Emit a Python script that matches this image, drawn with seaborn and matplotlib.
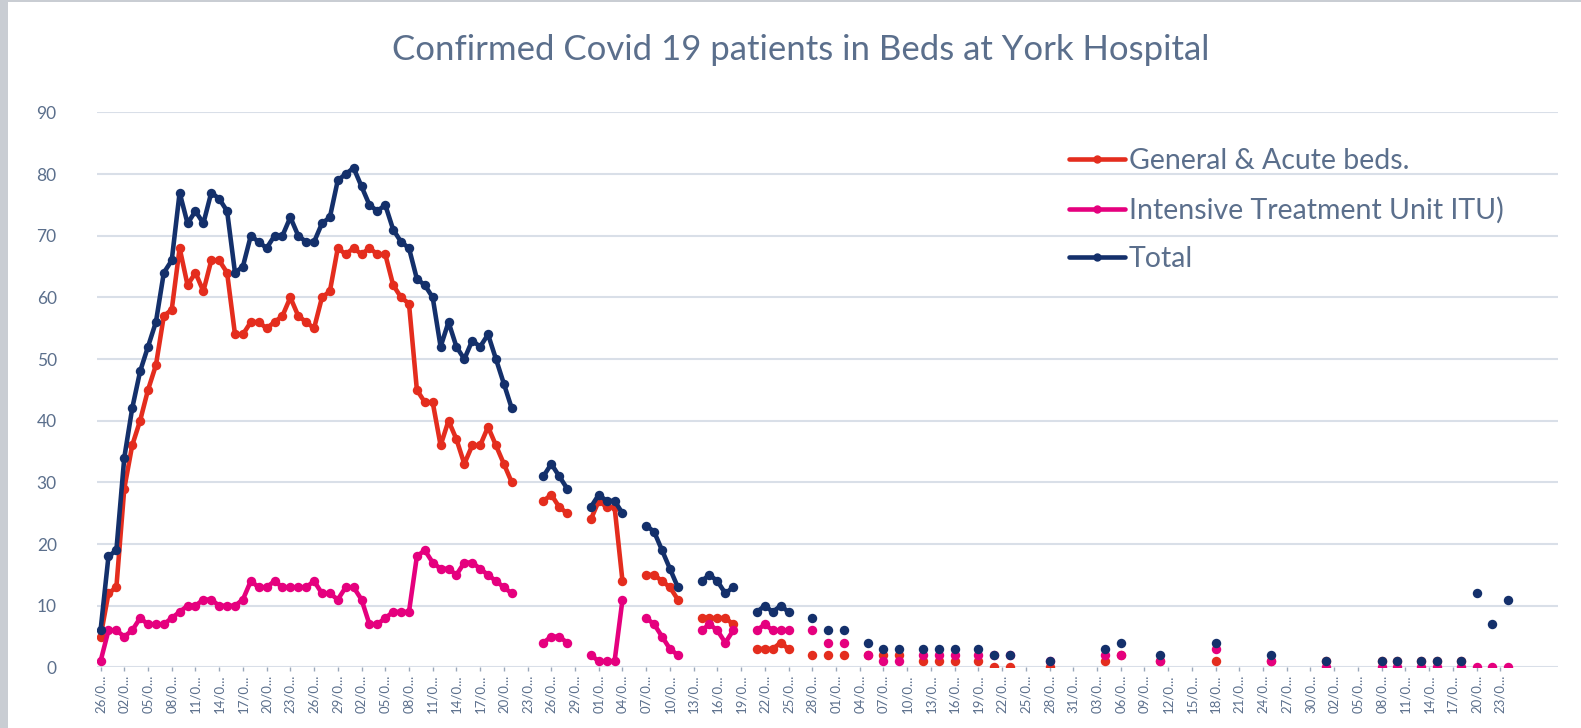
import numpy as np
import pandas as pd
import matplotlib.pyplot as plt
from matplotlib.lines import Line2D
from matplotlib.patches import Rectangle
import seaborn as sns

N = None  # no value recorded that day

# every third category label, as shown (truncated) on the chart
date_labels = [
    "26/0...", "02/0...", "05/0...", "08/0...", "11/0...", "14/0...", "17/0...", "20/0...", "23/0...", "26/0...",
    "29/0...", "02/0...", "05/0...", "08/0...", "11/0...", "14/0...", "17/0...", "20/0...", "23/0...", "26/0...",
    "29/0...", "01/0...", "04/0...", "07/0...", "10/0...", "13/0...", "16/0...", "19/0...", "22/0...", "25/0...",
    "28/0...", "01/0...", "04/0...", "07/0...", "10/0...", "13/0...", "16/0...", "19/0...", "22/0...", "25/0...",
    "28/0...", "31/0...", "03/0...", "06/0...", "09/0...", "12/0...", "15/0...", "18/0...", "21/0...", "24/0...",
    "27/0...", "30/0...", "02/0...", "05/0...", "08/0...", "11/0...", "14/0...", "17/0...", "20/0...", "23/0...",
]

general_beds = [
    5, 12, 13, 29, 36, 40, 45, 49, 57, 58, 68, 62, 64, 61, 66, 66, 64, 54, 54, 56,
    56, 55, 56, 57, 60, 57, 56, 55, 60, 61, 68, 67, 68, 67, 68, 67, 67, 62, 60, 59,
    45, 43, 43, 36, 40, 37, 33, 36, 36, 39, 36, 33, 30, N, N, N, 27, 28, 26, 25,
    N, N, 24, 27, 26, 26, 14, N, N, 15, 15, 14, 13, 11, N, N, 8, 8, 8, 8,
    7, N, N, 3, 3, 3, 4, 3, N, N, 2, N, 2, N, 2, N, N, 2, N, 2,
    N, 2, N, N, 1, N, 1, N, 1, N, N, 1, N, 0, N, 0, N, N, N, N,
    0, N, N, N, N, N, N, 1, N, 2, N, N, N, N, 1, N, N, N, N, N,
    N, 1, N, N, N, N, N, N, 1, N, N, N, N, N, N, 1, N, N, N, N,
    N, N, 1, N, 1, N, N, 1, N, 1, N, N, 1, N, N, N, N, N, N,
]

itu_beds = [
    1, 6, 6, 5, 6, 8, 7, 7, 7, 8, 9, 10, 10, 11, 11, 10, 10, 10, 11, 14,
    13, 13, 14, 13, 13, 13, 13, 14, 12, 12, 11, 13, 13, 11, 7, 7, 8, 9, 9, 9,
    18, 19, 17, 16, 16, 15, 17, 17, 16, 15, 14, 13, 12, N, N, N, 4, 5, 5, 4,
    N, N, 2, 1, 1, 1, 11, N, N, 8, 7, 5, 3, 2, N, N, 6, 7, 6, 4,
    6, N, N, 6, 7, 6, 6, 6, N, N, 6, N, 4, N, 4, N, N, 2, N, 1,
    N, 1, N, N, 2, N, 2, N, 2, N, N, 2, N, 2, N, 2, N, N, N, N,
    1, N, N, N, N, N, N, 2, N, 2, N, N, N, N, 1, N, N, N, N, N,
    N, 3, N, N, N, N, N, N, 1, N, N, N, N, N, N, 0, N, N, N, N,
    N, N, 0, N, 0, N, N, 0, N, 0, N, N, 0, N, 0, N, 0, N, 0,
]

total_beds = [
    6, 18, 19, 34, 42, 48, 52, 56, 64, 66, 77, 72, 74, 72, 77, 76, 74, 64, 65, 70,
    69, 68, 70, 70, 73, 70, 69, 69, 72, 73, 79, 80, 81, 78, 75, 74, 75, 71, 69, 68,
    63, 62, 60, 52, 56, 52, 50, 53, 52, 54, 50, 46, 42, N, N, N, 31, 33, 31, 29,
    N, N, 26, 28, 27, 27, 25, N, N, 23, 22, 19, 16, 13, N, N, 14, 15, 14, 12,
    13, N, N, 9, 10, 9, 10, 9, N, N, 8, N, 6, N, 6, N, N, 4, N, 3,
    N, 3, N, N, 3, N, 3, N, 3, N, N, 3, N, 2, N, 2, N, N, N, N,
    1, N, N, N, N, N, N, 3, N, 4, N, N, N, N, 2, N, N, N, N, N,
    N, 4, N, N, N, N, N, N, 2, N, N, N, N, N, N, 1, N, N, N, N,
    N, N, 1, N, 1, N, N, 1, N, 1, N, N, 1, N, 12, N, 7, N, 11,
]

series_names = ["General & Acute beds.", "Intensive Treatment Unit ITU)", "Total"]
series_values = [general_beds, itu_beds, total_beds]
series_colors = ["#E42D1E", "#E5007E", "#14306B"]

text_color = "#5B6F8C"
grid_color = "#D9DFE8"

W, H = 1581, 728

sns.set_theme(style="white")
plt.rcParams["font.family"] = ["Lato", "DejaVu Sans"]

fig = plt.figure(figsize=(W / 100, H / 100), dpi=100)
fig.patch.set_facecolor("white")
# thin grey frame along the left and top edges of the chart area
fig.patches.append(Rectangle((0, 0), 8 / W, 1, transform=fig.transFigure,
                             facecolor="#C9CDD3", edgecolor="none", zorder=-10))
fig.patches.append(Rectangle((0, 1 - 2 / H), 1, 2 / H, transform=fig.transFigure,
                             facecolor="#C9CDD3", edgecolor="none", zorder=-10))

ax = fig.add_axes([97 / W, 1 - 667.4 / H, (1558 - 97) / W, (667.4 - 112.4) / H])
ax.set_facecolor("none")

for name, values, color in zip(series_names, series_values, series_colors):
    s = pd.Series(values, dtype=float)
    df = pd.DataFrame({"day": np.arange(len(s)), "patients": s, "segment": s.isna().cumsum()}).dropna()
    sns.lineplot(data=df, x="day", y="patients", units="segment", estimator=None, sort=False,
                 color=color, linewidth=3.3, marker="o", markersize=6.8,
                 markeredgewidth=0, markeredgecolor=color, legend=False, ax=ax)

ax.set_ylim(0, 90)
ax.set_xlim(-0.45, 184.3)
ax.set_yticks(range(0, 91, 10))
ax.set_xticks(range(0, 3 * len(date_labels), 3))
ax.set_xticklabels(date_labels, rotation=90)
ax.set_xlabel("")
ax.set_ylabel("")

ax.grid(axis="y", color=grid_color, linewidth=1.5, zorder=0)
ax.grid(axis="x", visible=False)
ax.set_axisbelow(True)
for sp in ax.spines.values():
    sp.set_visible(False)

ax.tick_params(axis="y", length=0, pad=29, labelsize=12.5, labelcolor=text_color)
ax.tick_params(axis="x", length=3, width=1, color="#9AA8BA", pad=2, labelsize=9.5,
               labelcolor=text_color, bottom=True)

fig.text(801 / W, 1 - 50 / H, "Confirmed Covid 19 patients in Beds at York Hospital",
         ha="center", va="center", fontsize=25, color=text_color)

handles = [Line2D([], [], color=c, linewidth=3.3, marker="o", markersize=5) for c in series_colors]
ax.legend(handles, series_names, loc="upper left", bbox_to_anchor=(1069 / W, 1 - 148 / H),
          bbox_transform=fig.transFigure, frameon=False, fontsize=20.5, labelcolor=text_color,
          handlelength=1.95, handletextpad=0.15, labelspacing=0.8, borderpad=0, borderaxespad=0)

fig.savefig("out.png", dpi=100, facecolor=fig.get_facecolor())
